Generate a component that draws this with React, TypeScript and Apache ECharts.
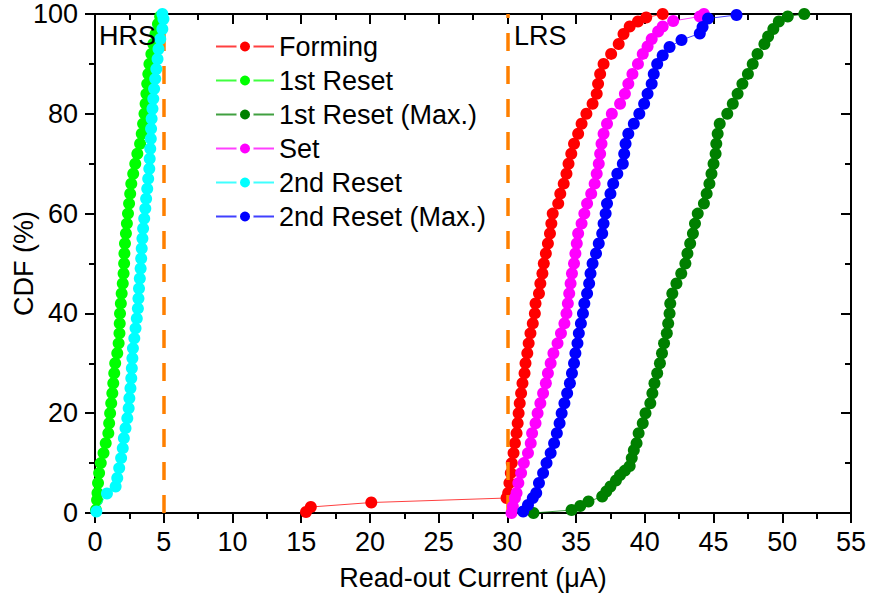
import React, { useEffect, useRef } from "react";
import * as echarts from "echarts";

// ---- Data (current in µA, CDF in %) ----
const forming: [number, number][] = [
  [15.35, 0.2], [15.7, 1.2], [20.1, 2.1], [29.94, 3.0], [30.06, 4], [30.15, 6], [30.25, 8], [30.32, 10],
  [30.45, 12], [30.55, 14], [30.67, 16], [30.75, 18], [30.82, 20], [30.9, 22], [31.0, 24], [31.1, 26],
  [31.25, 28], [31.32, 30], [31.45, 32], [31.55, 34], [31.68, 36], [31.85, 38], [32.0, 40], [32.05, 42],
  [32.3, 44], [32.4, 46], [32.55, 48], [32.65, 50], [32.8, 52], [32.95, 54], [33.1, 56], [33.2, 58],
  [33.3, 60], [33.7, 62], [33.85, 64], [34.1, 66], [34.3, 68], [34.45, 70], [34.65, 72], [34.85, 74],
  [35.15, 76], [35.4, 78], [35.75, 80], [36.2, 82], [36.5, 84], [36.6, 86], [36.75, 88], [37.0, 90],
  [37.55, 92], [38.1, 94], [38.45, 96], [38.9, 97.5], [39.5, 98.5], [40.1, 99.3], [41.3, 100],
];

const reset1: [number, number][] = [
  [0.07, 0.6], [0.15, 2.6], [0.18, 4], [0.22, 6], [0.3, 8], [0.42, 10], [0.62, 12], [0.78, 14],
  [0.97, 16], [1.03, 18], [1.1, 20], [1.18, 22], [1.26, 24], [1.33, 26], [1.4, 28], [1.47, 30],
  [1.62, 32], [1.72, 34], [1.78, 36], [1.8, 38], [1.82, 40], [1.88, 42], [1.94, 44], [2.02, 46],
  [2.08, 48], [2.12, 50], [2.14, 52], [2.18, 54], [2.25, 56], [2.32, 58], [2.4, 60], [2.48, 62],
  [2.56, 64], [2.64, 66], [2.78, 68], [2.93, 70], [3.08, 72], [3.28, 74], [3.4, 76], [3.5, 78],
  [3.6, 80], [3.68, 82], [3.74, 84], [3.8, 86], [3.88, 88], [3.96, 90], [4.1, 92], [4.24, 94],
  [4.4, 96], [4.58, 98], [4.74, 99.5],
];

const reset1Max: [number, number][] = [
  [31.9, 0], [34.67, 0.6], [35.3, 1.4], [35.9, 2.3], [36.9, 3.3], [37.2, 4.3], [37.5, 5.3], [37.9, 6.5],
  [38.2, 7.6], [38.55, 8.5], [38.9, 9.4], [39.05, 11], [39.2, 12.6], [39.4, 14], [39.55, 16], [39.85, 18],
  [40.05, 20], [40.4, 22], [40.55, 24], [40.7, 26], [40.9, 28], [41.1, 30], [41.25, 32], [41.4, 34],
  [41.6, 36], [41.7, 38], [41.8, 40], [41.85, 42], [42.0, 44], [42.3, 46], [42.65, 48], [42.95, 50],
  [43.1, 52], [43.3, 54], [43.5, 56], [43.65, 58], [43.85, 60], [44.3, 62], [44.5, 64], [44.7, 66],
  [44.85, 68], [45.0, 70], [45.15, 72], [45.2, 74], [45.3, 76], [45.45, 78], [46.0, 80], [46.4, 82],
  [46.75, 84], [47.1, 86], [47.5, 88], [47.85, 90], [48.2, 92], [48.7, 94], [48.97, 95.5], [49.35, 97],
  [49.75, 98.5], [50.4, 99.5], [51.6, 100],
];

const setData: [number, number][] = [
  [30.3, 0], [30.4, 1.3], [30.55, 3], [30.67, 4], [30.8, 6], [31.0, 8], [31.2, 10], [31.5, 12],
  [31.7, 14], [31.8, 16], [32.05, 18], [32.2, 20], [32.4, 22], [32.6, 24], [32.8, 26], [32.95, 28],
  [33.15, 30], [33.35, 32], [33.65, 34], [33.9, 36], [34.15, 38], [34.3, 40], [34.4, 42], [34.5, 44],
  [34.6, 46], [34.7, 48], [34.85, 50], [34.95, 52], [35.05, 54], [35.15, 56], [35.4, 58], [35.6, 60],
  [35.8, 62], [36.1, 64], [36.35, 66], [36.5, 68], [36.65, 70], [36.75, 72], [36.85, 74], [37.0, 76],
  [37.25, 78], [37.6, 80], [38.2, 82], [38.55, 84], [38.8, 86], [39.1, 88], [39.5, 90], [39.85, 92],
  [40.2, 93.5], [40.5, 95], [40.97, 96.5], [41.3, 97.5], [42.06, 98.6], [44.0, 99.5], [44.3, 100],
];

const reset2: [number, number][] = [
  [0.1, 0.3], [0.87, 3.9], [1.5, 5.3], [1.62, 7], [1.76, 9], [1.9, 11], [2.02, 13], [2.1, 15],
  [2.22, 17], [2.35, 19], [2.45, 21], [2.5, 23], [2.58, 25], [2.64, 27], [2.68, 29], [2.72, 31],
  [2.76, 33], [2.86, 35], [2.95, 37], [3.04, 39], [3.12, 41], [3.16, 43], [3.2, 45], [3.26, 47],
  [3.32, 49], [3.36, 51], [3.4, 53], [3.45, 55], [3.5, 57], [3.58, 59], [3.66, 61], [3.72, 63],
  [3.8, 65], [3.87, 67], [3.95, 69], [3.98, 71], [4.02, 73], [4.06, 75], [4.08, 77], [4.12, 79],
  [4.18, 81], [4.24, 83], [4.3, 85], [4.38, 87], [4.46, 89], [4.55, 91], [4.62, 93], [4.75, 95],
  [4.9, 97], [4.98, 99], [4.9, 100],
];

const reset2Max: [number, number][] = [
  [31.15, 0.3], [31.5, 1.6], [31.85, 3], [32.1, 4], [32.3, 6], [32.6, 8], [32.85, 10], [33.15, 12],
  [33.4, 14], [33.6, 16], [33.8, 18], [33.95, 20], [34.15, 22], [34.35, 24], [34.55, 26], [34.7, 28],
  [34.85, 30], [34.95, 32], [35.1, 34], [35.2, 36], [35.35, 38], [35.5, 40], [35.6, 42], [35.8, 44],
  [35.95, 46], [36.05, 48], [36.2, 50], [36.45, 52], [36.65, 54], [36.9, 56], [37.0, 58], [37.15, 60],
  [37.25, 62], [37.5, 64], [37.7, 66], [38.0, 68], [38.4, 70], [38.5, 72], [38.6, 74], [38.8, 76],
  [39.2, 78], [39.6, 80], [39.95, 82], [40.2, 84], [40.5, 86], [40.65, 88], [40.9, 90], [41.3, 91.7],
  [41.8, 93.4], [42.67, 94.8], [44.0, 96.1], [44.2, 97.4], [44.6, 99.1], [46.67, 99.8],
];

const seriesNames = ["Forming", "1st Reset", "1st Reset (Max.)", "Set", "2nd Reset", "2nd Reset (Max.)"];
const seriesData = [forming, reset1, reset1Max, setData, reset2, reset2Max];
const seriesColors = ["#FF0000", "#00FF00", "#008000", "#FF00FF", "#00FFFF", "#0000FF"];
const boundaryLines = [5, 30];
const xTicks = { min: 0, max: 55, interval: 5 };
const yTicks = { min: 0, max: 100, interval: 20 };

const FONT = '"Liberation Sans", Arial, Helvetica, sans-serif';

export default function App() {
  const ref = useRef<HTMLDivElement>(null);
  useEffect(() => {
    if (!ref.current) return;
    const chart = echarts.init(ref.current, null, { renderer: "svg" });
    const axisLine = { show: true, onZero: false, lineStyle: { color: "#000", width: 2 } };
    const tick = (inside: boolean) => ({ show: true, inside, length: 10, lineStyle: { color: "#000", width: 2 } });
    const minor = { show: true, splitNumber: 2, length: 6, lineStyle: { color: "#000", width: 2 } };
    const series: any[] = seriesNames.map((name, i) => ({
      name,
      type: "line",
      data: seriesData[i],
      symbol: "circle",
      symbolSize: 12,
      showSymbol: true,
      clip: true,
      z: 2 + i,
      itemStyle: { color: seriesColors[i] },
      lineStyle: { color: seriesColors[i], width: 1, opacity: 0.75 },
    }));
    series.push({
      name: "boundaries",
      type: "line",
      data: [],
      z: 20,
      markLine: {
        silent: true,
        symbol: ["none", "none"],
        label: { show: false },
        lineStyle: { color: "#FF8000", width: 3.5, type: [18, 15], opacity: 1 },
        emphasis: { disabled: true },
        data: boundaryLines.map((v) => ({ xAxis: v })),
      },
    });
    chart.setOption({
      animation: false,
      backgroundColor: "#fff",
      textStyle: { fontFamily: FONT },
      grid: { left: 95, right: 18, top: 14, bottom: 86, containLabel: false, outerBoundsMode: "none" },
      legend: {
        data: seriesNames,
        orient: "vertical",
        left: 215,
        top: 33,
        padding: 0,
        itemGap: 7,
        itemWidth: 58,
        itemHeight: 17,
        itemStyle: { borderColor: "#fff", borderWidth: 3.5 },
        textStyle: { fontSize: 27, color: "#000", fontFamily: FONT },
        selectedMode: false,
      },
      xAxis: [
        {
          type: "value", position: "bottom", ...xTicks,
          axisLine, axisTick: tick(false), minorTick: minor, splitLine: { show: false },
          axisLabel: { show: true, fontSize: 27, color: "#000", margin: 15, fontFamily: FONT },
          name: "Read-out Current (\u03BCA)", nameLocation: "middle", nameGap: 51, nameMoveOverlap: false,
          nameTextStyle: { fontSize: 27, color: "#000", fontFamily: FONT },
        },
        {
          type: "value", position: "top", ...xTicks,
          axisLine, axisTick: tick(true), minorTick: minor, splitLine: { show: false },
          axisLabel: { show: false },
        },
      ],
      yAxis: [
        {
          type: "value", position: "left", ...yTicks,
          axisLine, axisTick: tick(false), minorTick: minor, splitLine: { show: false },
          axisLabel: { show: true, fontSize: 27, color: "#000", margin: 17, fontFamily: FONT },
          name: "CDF (%)", nameLocation: "middle", nameGap: 58, nameRotate: 90, nameMoveOverlap: false,
          nameTextStyle: { fontSize: 27, color: "#000", fontFamily: FONT },
        },
        {
          type: "value", position: "right", ...yTicks,
          axisLine, axisTick: tick(true), minorTick: minor, splitLine: { show: false },
          axisLabel: { show: false },
        },
      ],
      graphic: [
        { type: "text", left: 99, top: 22, style: { text: "HRS", fontSize: 27, fontFamily: FONT, fill: "#000" }, z: 30 },
        { type: "text", left: 514, top: 22, style: { text: "LRS", fontSize: 27, fontFamily: FONT, fill: "#000" }, z: 30 },
      ],
      series,
    });
    return () => chart.dispose();
  }, []);
  return <div ref={ref} style={{ position: "fixed", left: 0, top: 0, width: 869, height: 599 }} />;
}
